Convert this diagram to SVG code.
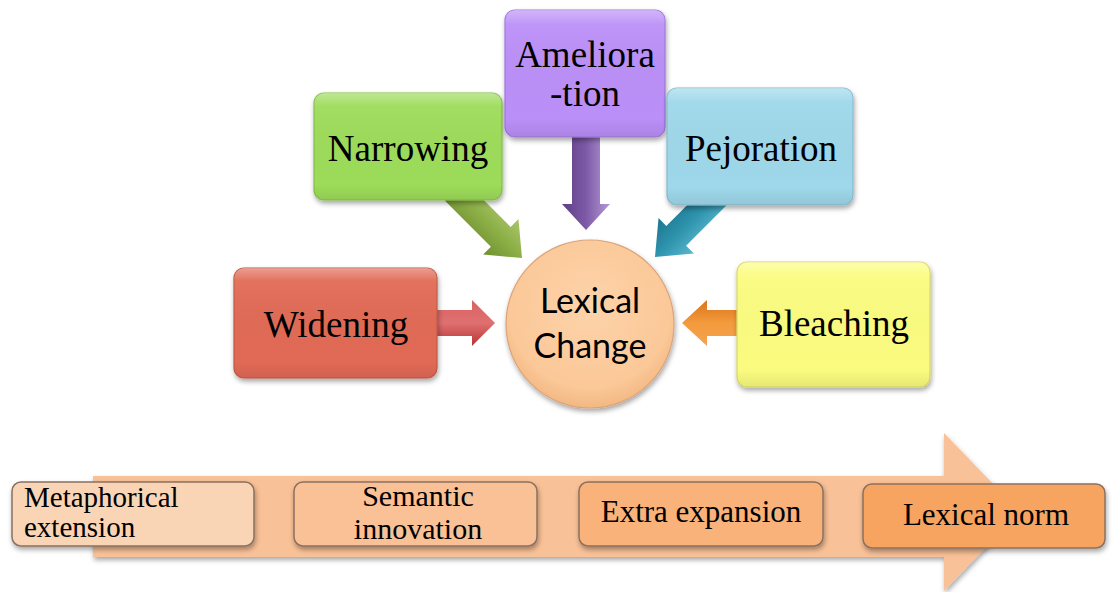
<svg xmlns="http://www.w3.org/2000/svg" width="1113" height="592" viewBox="0 0 1113 592">
<defs>
<filter id="sh" x="-10%" y="-10%" width="125%" height="130%">
<feDropShadow dx="1" dy="3" stdDeviation="2.5" flood-color="#000" flood-opacity="0.35"/>
</filter>
<linearGradient id="gloss" x1="0" y1="0" x2="0" y2="1">
<stop offset="0" stop-color="#fff" stop-opacity="0.35"/>
<stop offset="0.12" stop-color="#fff" stop-opacity="0.05"/>
<stop offset="0.85" stop-color="#000" stop-opacity="0"/>
<stop offset="1" stop-color="#000" stop-opacity="0.08"/>
</linearGradient>
<linearGradient id="gG" x1="0" y1="0" x2="0" y2="1"><stop offset="0" stop-color="#a9c66a"/><stop offset="0.5" stop-color="#8cae45"/><stop offset="1" stop-color="#6f9030"/></linearGradient>
<linearGradient id="gP" x1="0" y1="0" x2="0" y2="1"><stop offset="0" stop-color="#b49ad6"/><stop offset="0.5" stop-color="#7e5aa6"/><stop offset="1" stop-color="#5e3f86"/></linearGradient>
<linearGradient id="gB" x1="0" y1="0" x2="0" y2="1"><stop offset="0" stop-color="#5cb8cf"/><stop offset="0.5" stop-color="#2e93ad"/><stop offset="1" stop-color="#1e7590"/></linearGradient>
<linearGradient id="gR" x1="0" y1="0" x2="0" y2="1"><stop offset="0" stop-color="#d96262"/><stop offset="0.5" stop-color="#e07070"/><stop offset="1" stop-color="#b73434"/></linearGradient>
<linearGradient id="gO" x1="0" y1="0" x2="0" y2="1"><stop offset="0" stop-color="#f5a252"/><stop offset="0.5" stop-color="#f39b3c"/><stop offset="1" stop-color="#d9731a"/></linearGradient>
<radialGradient id="gC" cx="0.5" cy="0.4" r="0.6"><stop offset="0" stop-color="#fdd3aa"/><stop offset="0.8" stop-color="#fbc898"/><stop offset="1" stop-color="#f2b882"/></radialGradient>
</defs>
<style>
.box{stroke-width:1.2;filter:url(#sh)}
.lbl{font-family:"Liberation Serif","Times New Roman",serif;font-size:37px;fill:#000;text-anchor:middle}
.lbl2{font-family:"Liberation Serif","Times New Roman",serif;font-size:30px;fill:#000;text-anchor:middle}
.cl{font-family:Lato,"Open Sans","Liberation Sans",sans-serif;font-size:34px;fill:#000;text-anchor:middle}
.bb{stroke:#8a7060;stroke-width:1.5;filter:url(#sh)}
</style>

<g id="band">
<path d="M93,476 L944,476 L944,433 L1020,512 L944,591 L944,557 L93,557 Z" fill="#f9c197" filter="url(#sh)"/>
</g>

<g id="connectors">
<path transform="translate(495,323)" d="M0,0 L-23,-23 L-23,-13 L-62,-13 L-62,13 L-23,13 L-23,23 Z" fill="url(#gR)"/>
<path transform="translate(522,258) rotate(45)" d="M0,0 L-30,-25 L-30,-14 L-95,-14 L-95,14 L-30,14 L-30,25 Z" fill="url(#gG)"/>
<path transform="translate(586,230) rotate(90)" d="M0,0 L-26,-24 L-26,-14 L-100,-14 L-100,14 L-26,14 L-26,24 Z" fill="url(#gP)"/>
<path transform="translate(655,257) rotate(135)" d="M0,0 L-30,-25 L-30,-14 L-90,-14 L-90,14 L-30,14 L-30,25 Z" fill="url(#gB)"/>
<path transform="translate(682,323) rotate(180)" d="M0,0 L-25,-23 L-25,-13 L-60,-13 L-60,13 L-25,13 L-25,23 Z" fill="url(#gO)"/>
</g>

<g id="narrowing">
<rect class="box" x="314" y="93" width="188" height="107" rx="10" fill="#9ddc5a" stroke="#86be48"/>
<rect x="314" y="93" width="188" height="107" rx="10" fill="url(#gloss)"/>
<text class="lbl" x="408" y="161">Narrowing</text>
</g>
<g id="widening">
<rect class="box" x="234" y="268" width="203" height="110" rx="10" fill="#e16b55" stroke="#c25644"/>
<rect x="234" y="268" width="203" height="110" rx="10" fill="url(#gloss)"/>
<text class="lbl" x="336" y="337">Widening</text>
</g>
<g id="amelioration">
<rect class="box" x="505" y="10" width="160" height="127" rx="10" fill="#bb8ff8" stroke="#9f76dc"/>
<rect x="505" y="10" width="160" height="127" rx="10" fill="url(#gloss)"/>
<text class="lbl" x="585" y="67">Ameliora</text>
<text class="lbl" x="585" y="106">-tion</text>
</g>
<g id="pejoration">
<rect class="box" x="667" y="88" width="186" height="117" rx="10" fill="#9ed8ea" stroke="#84bccf"/>
<rect x="667" y="88" width="186" height="117" rx="10" fill="url(#gloss)"/>
<text class="lbl" x="761" y="161">Pejoration</text>
</g>
<g id="bleaching">
<rect class="box" x="737" y="262" width="193" height="125" rx="10" fill="#fbfc7f" stroke="#d8d86a"/>
<rect x="737" y="262" width="193" height="125" rx="10" fill="url(#gloss)"/>
<text class="lbl" x="834" y="336">Bleaching</text>
</g>
<g id="lexical-change">
<circle cx="590" cy="324" r="84" fill="url(#gC)" stroke="#dca37a" stroke-width="1.2" filter="url(#sh)"/>
<text class="cl" x="590" y="313">Lexical</text>
<text class="cl" x="590" y="358">Change</text>
</g>

<g id="metaphorical">
<rect class="bb" x="12" y="482" width="242" height="64" rx="9" fill="#fad5b5"/>
<text class="lbl2" x="24" y="507" style="text-anchor:start;font-size:29px">Metaphorical</text>
<text class="lbl2" x="24" y="537" style="text-anchor:start;font-size:29px">extension</text>
</g>
<g id="semantic">
<rect class="bb" x="294" y="482" width="243" height="64" rx="9" fill="#f9c195"/>
<text class="lbl2" x="418" y="506">Semantic</text>
<text class="lbl2" x="418" y="539">innovation</text>
</g>
<g id="extra">
<rect class="bb" x="579" y="482" width="244" height="64" rx="9" fill="#f8b27a"/>
<text class="lbl2" x="701" y="522" style="font-size:31px">Extra expansion</text>
</g>
<g id="norm">
<rect class="bb" x="863" y="484" width="242" height="64" rx="9" fill="#f6a45f"/>
<text class="lbl2" x="986" y="525" style="font-size:31px">Lexical norm</text>
</g>
</svg>
